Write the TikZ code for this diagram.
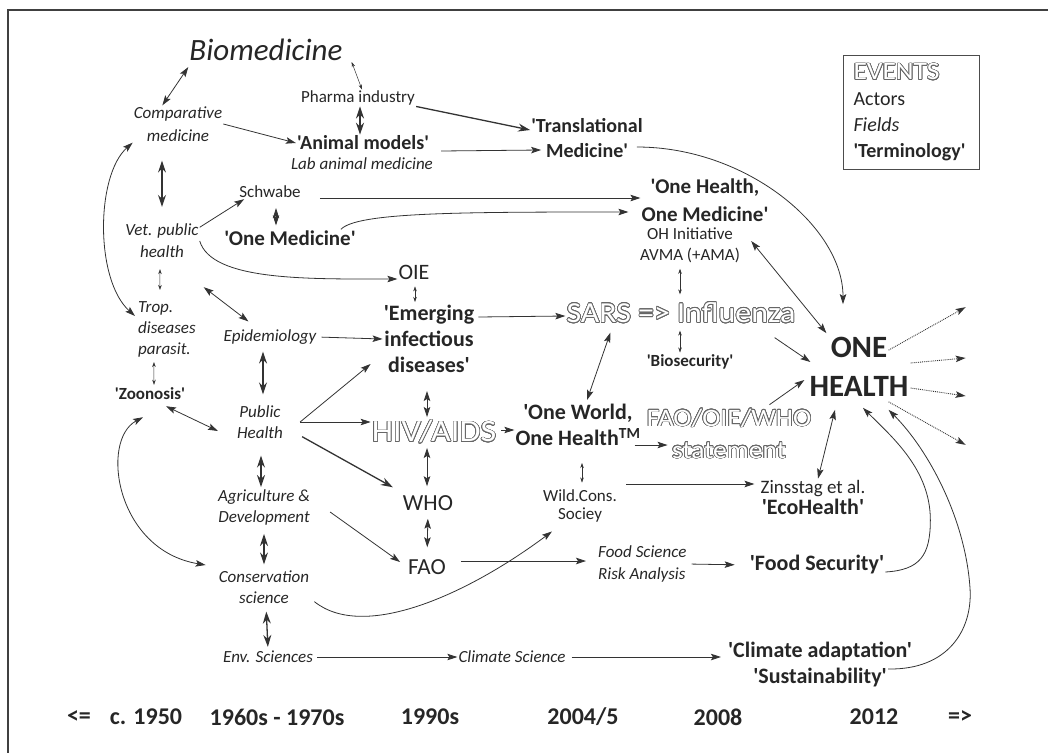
\documentclass[tikz,border=0pt]{standalone}
\usepackage{fontspec}
\newfontfamily\calib{Carlito}
\newfontfamily\hollowfont{Carlito}[FakeStretch=1.1]
\usepackage[copies]{contour}
\contourlength{0.7pt}
\contournumber{24}
\usetikzlibrary{arrows.meta}

% hollow lettering for the events
\newcommand\hollow[1]{{\hollowfont\color{white}\contour{black!60}{#1}}}

\tikzset{
  field/.style={font=\calib\fontsize{17}{21}\selectfont\itshape, align=center},
  actor/.style={font=\calib\fontsize{17}{21}\selectfont, align=center},
  term/.style={font=\calib\fontsize{21}{26}\selectfont\bfseries, align=center},
  event/.style={font=\calib\fontsize{27}{32}\selectfont, align=center},
  year/.style={font=\calib\fontsize{24}{28}\selectfont\bfseries},
  legend/.style={draw=black!70, line width=1pt, anchor=north west, align=left,
    text width=116pt, inner xsep=10pt, inner ysep=8pt,
    font=\calib\fontsize{20}{26}\selectfont},
  link/.style={->, line width=0.8pt, draw=black!80},
  both/.style={<->, line width=0.8pt, draw=black!80},
  thinarrow/.style={line width=0.5pt, >={Stealth[length=5pt,width=3.5pt]}},
  heavy/.style={line width=1.3pt, >={Stealth[length=12pt,width=8pt]}},
  fan/.style={->, densely dotted, line width=0.9pt, draw=black!80}
}

\begin{document}
\begin{tikzpicture}[x=1pt, y=-1pt,
  >={Stealth[length=10pt,width=6.5pt,inset=2pt]},
  every node/.style={inner sep=1pt, text=black!85}]
\useasboundingbox (0,0) rectangle (1048,752);
\draw[line width=2pt, black!75] (8,770) -- (8,10) -- (1060,10);

% fields, actors, terms
\node[field, font=\calib\fontsize{31}{34}\selectfont\itshape] (bio) at (266,50) {Biomedicine};
\node[actor] (pharma) at (358,98) {Pharma industry};
\node[field, font=\calib\fontsize{17}{23}\selectfont\itshape] (comp) at (178,124) {Comparative\\medicine};
\node[term, font=\calib\fontsize{20}{24}\selectfont\bfseries] (animal) at (363,143) {'Animal models'};
\node[field] (labmed) at (362,164) {Lab animal medicine};
\node[term, font=\calib\fontsize{20}{25}\selectfont\bfseries] (trans) at (587,138) {'Translational\\Medicine'};
\node[legend] (key) at (843,55) {{\fontsize{25}{26}\selectfont\hollow{EVENTS}}\\Actors\\\textit{Fields}\\\textbf{'Terminology'}};
\node[actor] (schwabe) at (270,192) {Schwabe};
\node[term] (onemed) at (290,238) {'One Medicine'};
\node[field, font=\calib\fontsize{17}{22}\selectfont\itshape] (vph) at (162,241) {Vet. public\\health};
\node[term, font=\calib\fontsize{21}{28}\selectfont\bfseries] (ohom) at (705,200) {'One Health,\\One Medicine'};
\node[actor] (ohinit) at (690,245) {OH Initiative\\AVMA (+AMA)};
\node[actor, font=\calib\fontsize{22}{26}\selectfont] (oie) at (414,272) {OIE};
\node[term, font=\calib\fontsize{22}{26}\selectfont\bfseries] (emerg) at (429,339) {'Emerging\\infectious\\diseases'};
\node[field] (epi) at (270,337) {Epidemiology};
\node[field, align=left, anchor=west] (trop) at (137,329) {Trop.\\diseases\\parasit.};
\node[term, font=\calib\fontsize{17}{21}\selectfont\bfseries] (zoo) at (150,394) {'Zoonosis'};
\node[field] (ph) at (260,422) {Public\\Health};
\node[field] (agri) at (264,507) {Agriculture \&\\Development};
\node[field] (cons) at (264,587) {Conservation\\science};
\node[field] (env) at (268,657) {Env. Sciences};
\node[event, font=\calib\fontsize{31}{34}\selectfont] (hiv) at (434,432) {\hollow{HIV/AIDS}};
\node[actor, font=\calib\fontsize{23}{26}\selectfont] (who) at (428,503) {WHO};
\node[actor, font=\calib\fontsize{23}{26}\selectfont] (fao) at (427,567) {FAO};
\node[event, font=\calib\fontsize{29}{32}\selectfont] (sars) at (681,313) {\hollow{SARS => Influenza}};
\node[term, font=\calib\fontsize{17}{21}\selectfont\bfseries] (bios) at (690,362) {'Biosecurity'};
\node[term, font=\calib\fontsize{22}{26}\selectfont\bfseries] (owoh) at (578,425) {'One World,\\One Health\textsuperscript{TM}};
\node[actor, font=\calib\fontsize{17}{18}\selectfont] (wcs) at (580,506) {Wild.Cons.\\Sociey};
\node[event, font=\calib\fontsize{25}{32}\selectfont] (faostat) at (729,434) {\hollow{FAO/OIE/WHO}\\\hollow{statement}};
\node[actor, font=\calib\fontsize{19}{21}\selectfont] (zins) at (813,497) {Zinsstag et al.\\{\fontsize{22}{22}\selectfont\bfseries 'EcoHealth'}};
\node[field, align=left, anchor=west, font=\calib\fontsize{17}{22}\selectfont\itshape] (foodsci) at (597,564) {Food Science\\Risk Analysis};
\node[term, font=\calib\fontsize{22}{26}\selectfont\bfseries] (foodsec) at (817,565) {'Food Security'};
\node[field] (climsci) at (512,657) {Climate Science};
\node[term, font=\calib\fontsize{22}{26}\selectfont\bfseries] (climad) at (820,664) {'Climate adaptation'\\'Sustainability'};
\node[term, font=\calib\fontsize{31}{39}\selectfont\bfseries] (onehealth) at (859,367) {ONE\\HEALTH};

% time line
\node[year] (ybefore) at (79,717) {<=};
\node[year] (y1950) at (146,717) {c. 1950};
\node[year] (y1960) at (277,717) {1960s - 1970s};
\node[year] (y1990) at (430,717) {1990s};
\node[year] (y2004) at (583,717) {2004/5};
\node[year] (y2008) at (718,717) {2008};
\node[year] (y2012) at (874,717) {2012};
\node[year] (yafter) at (960,717) {=>};

% top part
\draw[both] ([yshift=-5pt]bio.south west) -- (comp.130);
\draw[both, thinarrow] ([xshift=8pt]bio.south east) -- ([xshift=4pt]pharma.north);
\draw[both, heavy] ([xshift=2pt]pharma.south) -- ([xshift=-3pt]animal.north);
\draw[link] (comp.east) -- (animal.west);
\draw[link, heavy] (pharma.south east) -- ([yshift=8pt]trans.west);
\draw[link] ([shift={(11pt,-8pt)}]animal.east) -- ([shift={(11pt,-12pt)}]trans.west);
\draw[link, shorten >=32pt] ([shift={(-7pt,-9pt)}]trans.east) to[out=0, in=90] ([xshift=-16pt]onehealth.north);
\draw[both, heavy, shorten <=18pt, shorten >=16pt] (vph.north |- comp.south) -- (vph.north);
\draw[link] (vph.20) -- ([xshift=6pt]schwabe.south west);
\draw[both, shorten <=9pt, shorten >=4pt] ([xshift=6pt]schwabe.south) -- ([xshift=-14pt]onemed.north);
\draw[link] ([shift={(18pt,-6pt)}]schwabe.east) -- ([yshift=2pt]ohom.west);
\draw[link] ([xshift=-16pt]onemed.north east) .. controls +(16,-17) and +(-170,0) .. ([shift={(-12pt,-12pt)}]ohom.west);
\draw[link] (vph.east) .. controls +(12,40) and +(-90,0) .. ([yshift=-7pt]oie.west);

% left column
\draw[both, thinarrow, shorten <=10pt, shorten >=10pt] ([xshift=-2pt]vph.south) -- ([xshift=-7pt]trop.north);
\draw[both, thinarrow, shorten <=4pt, shorten >=2pt] ([xshift=-13pt]trop.south) -- ([xshift=4pt]zoo.north);
\draw[both] (comp.south west) .. controls +(-37,33) and +(-40,-36) .. ([shift={(-2pt,13pt)}]trop.west);
\draw[both] ([shift={(4pt,-28pt)}]vph.south east) -- ([shift={(26pt,7pt)}]epi.north west);
\draw[link, shorten <=4pt] (epi.east) -- (emerg.west);
\draw[both, heavy, shorten <=6pt, shorten >=10pt] ([xshift=-7pt]epi.south) -- ([xshift=3pt]ph.north);
\draw[both] ([shift={(16pt,-5pt)}]zoo.south) -- ([shift={(-18pt,-9pt)}]ph.west);
\draw[link] ([xshift=16pt]ph.east) -- ([shift={(-12pt,10pt)}]emerg.south west);
\draw[link] ([xshift=16pt]ph.east) -- ([yshift=10pt]hiv.west);
\draw[link, heavy] ([shift={(18pt,3pt)}]ph.south east) -- ([shift={(-9pt,7pt)}]who.north west);
\draw[both, heavy, shorten <=16pt, shorten >=1pt] ([xshift=1pt]ph.south) -- ([xshift=-3pt]agri.north);
\draw[both] ([shift={(-7pt,-16pt)}]zoo.south) .. controls +(-43,23) and +(-90,-15) .. ([shift={(-12pt,22pt)}]cons.west);
\draw[both, heavy, shorten <=8pt, shorten >=5pt] (agri.south) -- (cons.north);
\draw[link] ([shift={(19pt,-5pt)}]agri.east) -- ([shift={(-7pt,5pt)}]fao.west);
\draw[both, heavy, shorten <=7pt, shorten >=3pt] ([xshift=2pt]cons.south) -- (env.north);
\draw[link, shorten <=3pt] (env.east) -- (climsci.west);
\draw[link, shorten <=5pt] (climsci.east) -- ([shift={(-6pt,7pt)}]climad.west);
\draw[link] ([shift={(4pt,3pt)}]cons.south east) .. controls +(50,40) and +(-83,62) .. ([shift={(10pt,-8pt)}]wcs.south west);

% middle
\draw[link] ([shift={(14pt,6pt)}]fao.east) -- ([shift={(-11pt,3pt)}]foodsci.west);
\draw[link, shorten <=4pt, shorten >=14pt] (foodsci.east) -- (foodsec.west);
\draw[both, thinarrow, shorten <=16pt, shorten >=6pt] ([xshift=4pt]owoh.south) -- ([xshift=2pt]wcs.north);
\draw[link] ([shift={(8pt,22pt)}]wcs.east) -- ([shift={(-5pt,13pt)}]zins.west);
\draw[link] ([shift={(-7pt,-20pt)}]owoh.east) -- ([shift={(22pt,-11pt)}]faostat.west);
\draw[link] ([shift={(4pt,2pt)}]hiv.east) -- ([yshift=-5pt]owoh.west);
\draw[link] ([shift={(3pt,22pt)}]emerg.east) -- ([yshift=-3pt]sars.west);
\draw[both, thinarrow, shorten <=6pt, shorten >=2pt] ([xshift=1pt]oie.south) -- ([xshift=-14pt]emerg.north);
\draw[both, shorten <=17pt, shorten >=2pt] ([xshift=-2pt]emerg.south) -- ([xshift=-7pt]hiv.north);
\draw[both, shorten <=3pt, shorten >=8pt] ([xshift=-7pt]hiv.south) -- ([xshift=-1pt]who.north);
\draw[both, shorten <=7pt, shorten >=11pt] (who.south) -- (fao.north);
\draw[both] ([shift={(45pt,-8pt)}]sars.south west) -- ([shift={(9pt,3pt)}]owoh.north);
\draw[both, thinarrow, shorten <=5pt, shorten >=7pt] ([xshift=-10pt]ohinit.south) -- ([xshift=-1pt]sars.north);
\draw[both, thinarrow, shorten <=6pt, shorten >=1pt] ([xshift=-1pt]sars.south) -- ([xshift=-10pt]bios.north);

% into ONE HEALTH
\draw[both] ([shift={(10pt,4pt)}]ohinit.east) -- ([shift={(18pt,3pt)}]onehealth.north west);
\draw[link] ([shift={(-22pt,-13pt)}]sars.south east) -- ([shift={(2pt,5pt)}]onehealth.west);
\draw[link] ([shift={(-43pt,3pt)}]faostat.north east) -- ([shift={(-4pt,-13pt)}]onehealth.west);
\draw[both] ([xshift=5pt]zins.north) -- ([shift={(-24pt,-12pt)}]onehealth.south);
\draw[link] ([yshift=-7pt]foodsec.east) .. controls +(35,-2) and +(0,35) .. ++(45,-52)
  .. controls +(0,-50) and +(30,30) .. ([shift={(4pt,-10pt)}]onehealth.south);
\draw[link] ([shift={(-25pt,-5pt)}]climad.east) .. controls +(60,1) and +(2,40) .. ++(82,-79)
  .. controls +(-4,-70) and +(40,40) .. ([shift={(-21pt,-12pt)}]onehealth.south east);

% out of ONE HEALTH
\draw[fan] ([shift={(-21pt,-14pt)}]onehealth.north east) -- +(77,-43);
\draw[fan] ([shift={(1pt,4pt)}]onehealth.east) -- +(55,-5);
\draw[fan] ([shift={(1pt,-21pt)}]onehealth.east) -- +(55,8);
\draw[fan] ([shift={(-21pt,-4pt)}]onehealth.south east) -- +(77,43);
\end{tikzpicture}
\end{document}
